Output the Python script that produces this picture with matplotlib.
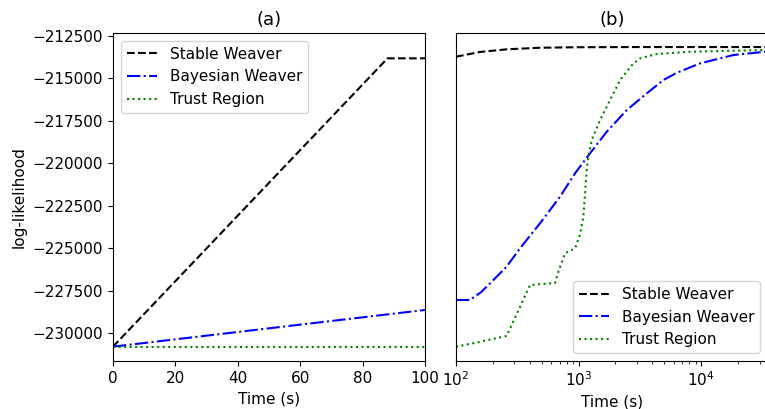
import matplotlib
matplotlib.use("Agg")
import matplotlib.pyplot as plt

plt.rcParams['font.size'] = 11

# (a) linear time, first 100 s
t_lin_stable = [0, 88, 100]
ll_lin_stable = [-230806, -213815, -213815]
t_lin_bayes = [0, 100]
ll_lin_bayes = [-230806, -228644]
t_lin_trust = [0, 100]
ll_lin_trust = [-230806, -230806]

# (b) log time
t_log_stable = [100, 157, 259, 485, 1000, 3000, 10000, 35000]
ll_log_stable = [-213720, -213440, -213284, -213190, -213160, -213150, -213150, -213150]
t_log_bayes = [100, 130, 160, 190, 259, 333, 485, 706, 936, 1241, 1698, 2475, 3603,
               4922, 6332, 9817, 18360, 35000]
ll_log_bayes = [-228055, -228055, -227600, -227071, -226093, -225009, -223536, -221968,
                -220590, -219411, -218139, -216860, -215876, -215092, -214662, -214109,
                -213619, -213410]
t_log_trust = [100, 138, 259, 402, 643, 684, 776, 936, 1028, 1094, 1130, 1166, 1202,
               1281, 1498, 1807, 2183, 2800, 3177, 4347, 8128, 35000]
ll_log_trust = [-230806, -230606, -230176, -227171, -227053, -226388, -225303, -225009,
                -224200, -223147, -221768, -220395, -219612, -218628, -217449, -216271,
                -215092, -214109, -213814, -213561, -213425, -213320]

yticks = [-212500, -215000, -217500, -220000, -222500, -225000, -227500, -230000]

fig = plt.figure(figsize=(7.65, 4.09), dpi=100)
ax1 = fig.add_axes([0.1477, 0.1174, 0.4078, 0.802])
ax2 = fig.add_axes([0.596, 0.1174, 0.4078, 0.802], sharey=ax1)

ax1.plot(t_lin_stable, ll_lin_stable, 'k--', lw=1.5, label='Stable Weaver')
ax1.plot(t_lin_bayes, ll_lin_bayes, 'b-.', lw=1.5, label='Bayesian Weaver')
ax1.plot(t_lin_trust, ll_lin_trust, 'g:', lw=1.5, label='Trust Region')
ax1.set_xlim(0, 100)
ax1.set_ylim(-231650, -212320)
ax1.set_yticks(yticks)
ax1.set_xlabel('Time (s)')
ax1.set_ylabel('log-likelihood')
ax1.set_title('(a)', fontsize=13)
ax1.legend(loc='upper left')

ax2.plot(t_log_stable, ll_log_stable, 'k--', lw=1.5, label='Stable Weaver')
ax2.plot(t_log_bayes, ll_log_bayes, 'b-.', lw=1.5, label='Bayesian Weaver')
ax2.plot(t_log_trust, ll_log_trust, 'g:', lw=1.5, label='Trust Region')
ax2.set_xscale('log')
ax2.set_xlim(100, 3.5e4)
ax2.tick_params(axis='y', left=False, labelleft=False)
ax2.set_xlabel('Time (s)')
ax2.set_title('(b)', fontsize=13)
ax2.legend(loc='lower right')

fig.savefig('out.png', dpi=100)
